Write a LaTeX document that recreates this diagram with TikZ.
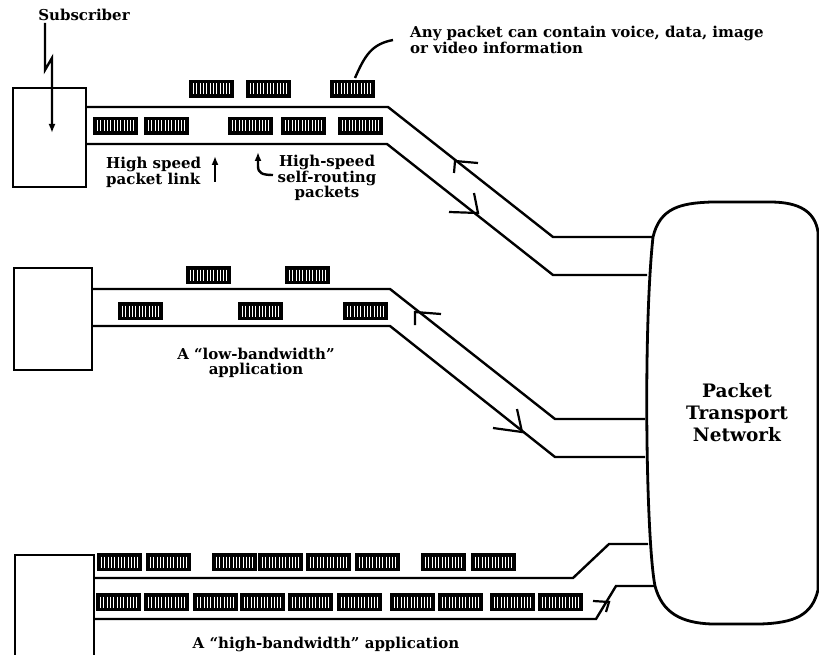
\documentclass[tikz,border=0pt]{standalone}
\usepackage{fontspec}
\setmainfont{DejaVu Serif}
\usetikzlibrary{arrows.meta}
\begin{document}
\begin{tikzpicture}[x=1pt,y=-1pt,
  lbl/.style={font=\bfseries\fontsize{15}{14.5}\selectfont, inner sep=0pt},
  big/.style={font=\bfseries\fontsize{18.5}{22}\selectfont, inner sep=0pt, align=center},
  link/.style={line width=2.4pt, line join=miter},
  subbox/.style={draw, line width=2.2pt, inner sep=0pt, anchor=north west},
  vtip/.style={line width=2.2pt},
  pointer/.style={line width=2.4pt, -{Latex[length=9pt,width=7pt]}},
  pkt/.pic={
    \fill[black] (0,0) rectangle (45,18);
    \foreach \i in {4.5,7.8,...,41} \draw[white, line width=0.7pt] (\i,3.5) -- (\i,14.5);
  }]
\useasboundingbox (0,0) rectangle (819,655);
\clip (0,0) rectangle (819,655);

% subscriber boxes
\node[subbox, minimum width=73pt, minimum height=99pt] (sub1) at (12,87) {};
\node[subbox, minimum width=78pt, minimum height=102pt] (sub2) at (13,267) {};
\node[subbox, minimum width=79pt, minimum height=120pt] (sub3) at (14,554) {};

% network
\draw[line width=2.8pt] (653,237) .. controls (660,208) and (680,203) .. (712,202)
  -- (770,202) .. controls (800,202) and (815,212) .. (818,232) -- (818,590)
  .. controls (812,615) and (795,623) .. (760,624) -- (712,624)
  .. controls (680,623) and (662,612) .. (655,586)
  .. controls (646,540) and (643,330) .. (653,237);
\node[big] (net) at (737,413) {Packet\\Transport\\Network};

% links
\draw[link] (sub1.east |- 0,107) -- (388,107) -- (553,237) -- (653,237);
\draw[link] (sub1.east |- 0,144) -- (387,144) -- (553,275) -- (647,275);
\draw[link] (sub2.east |- 0,289) -- (390,289) -- (555,419) -- (645,419);
\draw[link] (sub2.east |- 0,326) -- (390,326) -- (555,457) -- (645,457);
\draw[link] (sub3.east |- 0,578) -- (573,578) -- (609,544) -- (648,544);
\draw[link] (sub3.east |- 0,619) -- (596,619) -- (616,586) -- (655,586);

% direction marks
\draw[vtip] (478,163) -- (455,161) -- (454,173);
\draw[vtip] (449,212) -- (478,213) -- (474,193);
\draw[vtip] (441,314) -- (415,312) -- (415,325);
\draw[vtip] (493,428) -- (522,432) -- (517,409);
\draw[vtip] (593,601) -- (609,602) -- (606,612);

% packets link 1
\foreach \x in {189,246,330} \pic at (\x,80) {pkt};
\foreach \x in {93,144,228,281,338} \pic at (\x,117) {pkt};
% packets link 2
\foreach \x in {186,285} \pic at (\x,266) {pkt};
\foreach \x in {118,238,343} \pic at (\x,302) {pkt};
% packets link 3
\foreach \x in {97,146,212,258,306,355,421,471} \pic at (\x,553) {pkt};
\foreach \x in {96,144,193,240,288,337,390,438,490,538} \pic at (\x,593) {pkt};

% labels
\node[lbl] (subl) at (84,15) {Subscriber};
\draw[pointer] (45,23) -- (45,70) -- (52,58) -- (52,133);

\node[lbl, align=left, anchor=west] (anyp) at (410,40) {Any packet can contain voice, data, image\\or video information};
\draw[line width=2.4pt] (355,78) .. controls (365,55) and (372,44) .. (393,40);

\node[lbl, align=left, anchor=west] (hsl) at (106,172) {High speed\\packet link};
\draw[pointer] (215,182) -- (215,156);

\node[lbl, align=center] (hsp) at (327,178) {High-speed\\self-routing\\packets};
\draw[pointer] (273,175) .. controls (262,175) and (258,173) .. (258,166) -- (258,152);

\node[lbl, align=center] (lowbw) at (256,363) {A “low-bandwidth”\\application};
\node[lbl] (highbw) at (326,644) {A “high-bandwidth” application};
\end{tikzpicture}
\end{document}
